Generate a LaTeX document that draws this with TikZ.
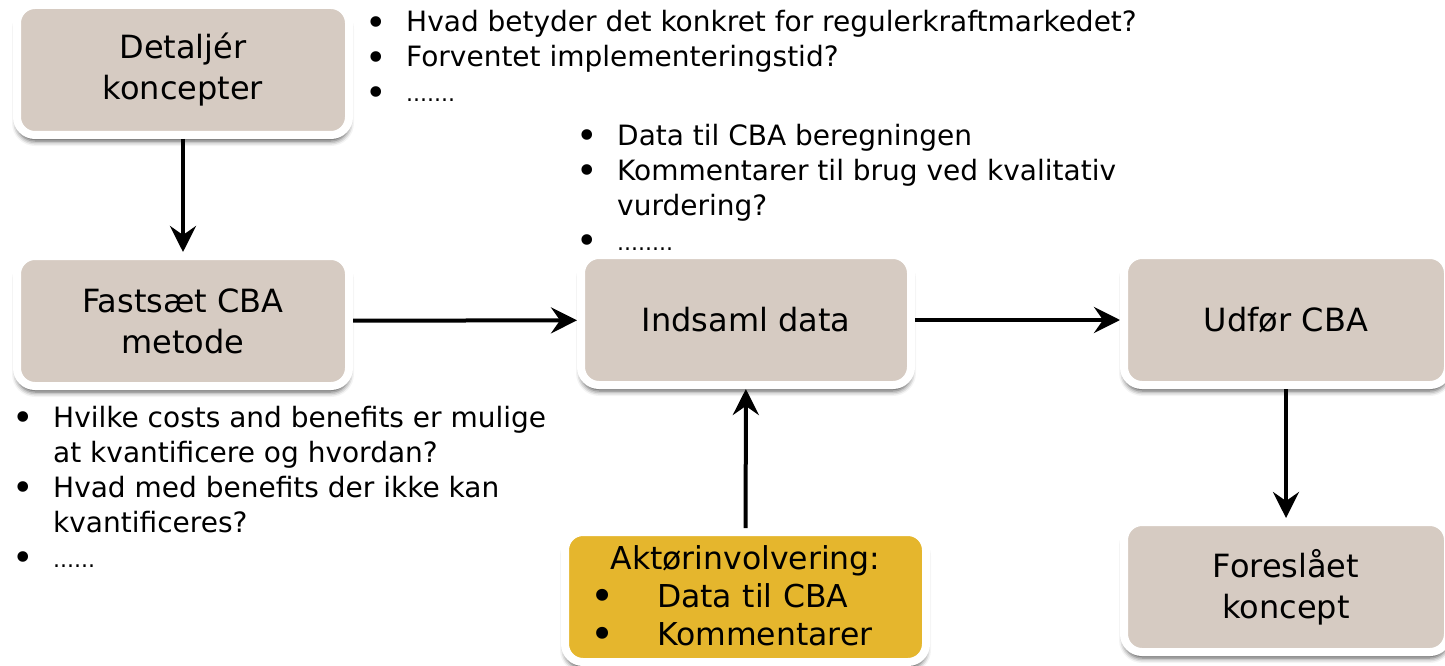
\documentclass[tikz,border=0pt]{standalone}
\usepackage{fontspec}
\usepackage{graphicx}
\setmainfont{DejaVu Sans}
\usetikzlibrary{arrows.meta,shadows.blur}
\definecolor{boxbeige}{RGB}{214,203,194}
\definecolor{boxyellow}{RGB}{229,182,45}
\newcommand\bdot{\raisebox{-3.5pt}{\scalebox{1.3}{•}}}
\newcommand\blt{\makebox[39pt][l]{\hspace*{-1.5pt}\bdot}}
\newcommand\ind{\hspace*{39pt}}
\newcommand\smalldots[1]{{\fontsize{22}{22}\selectfont #1}}
\begin{document}
\begin{tikzpicture}[x=1pt,y=-1pt,
  box/.style={draw=white, line width=8pt, fill=boxbeige, rounded corners=18pt,
    minimum width=332pt, minimum height=130pt, inner sep=0pt, align=center,
    font=\fontsize{32}{41}\selectfont,
    blur shadow={shadow xshift=0pt, shadow yshift=-6pt, shadow blur radius=5pt, shadow opacity=70}},
  ybox/.style={box, fill=boxyellow, minimum width=361pt, text width=345pt, align=left,
    font=\fontsize{31.5}{38}\selectfont},
  listtext/.style={anchor=base west, inner sep=0pt, align=left, font=\fontsize{28}{35}\selectfont},
  arr/.style={line width=4pt, -{Stealth[length=26pt,width=26pt,inset=9pt]}}]
\useasboundingbox (0,0) rectangle (1445,666);

\node[box] (b1) at (183,70) {Detaljér\\koncepter};
\node[box] (b2) at (183,321) {Fastsæt CBA\\metode};
\node[box, minimum width=330pt] (b3) at (746,320) {Indsaml data};
\node[box, minimum width=324pt] (b4) at (1286,320) {Udfør CBA};
\node[box, minimum width=324pt] (b5) at (1286,587) {Foreslået\\koncept};
\node[ybox] (b6) at (745.5,597) {\makebox[345pt][c]{Aktørinvolvering:}\\
  \hspace*{17pt}\makebox[67pt][l]{\bdot}Data til CBA\\
  \hspace*{17pt}\makebox[67pt][l]{\bdot}Kommentarer};

\draw[arr] (b1) -- (b2);
\draw[arr] (b2) -- (b3);
\draw[arr] (b3) -- (b4);
\draw[arr] (b4) -- (b5);
\draw[arr] (b6) -- (b3);

% anchor base = baseline of the last line
\node[listtext] (l1) at (367,102) {\blt Hvad betyder det konkret for regulerkraftmarkedet?\\
  \blt Forventet implementeringstid?\\
  \blt \smalldots{.......}};
\node[listtext] (l2) at (578,250) {\blt Data til CBA beregningen\\
  \blt Kommentarer til brug ved kvalitativ\\
  \ind vurdering?\\
  \blt \smalldots{........}};
\node[listtext] (l3) at (14,567) {\blt Hvilke costs and benefits er mulige\\
  \ind at kvantificere og hvordan?\\
  \blt Hvad med benefits der ikke kan\\
  \ind kvantificeres?\\
  \blt \smalldots{......}};
\end{tikzpicture}
\end{document}
